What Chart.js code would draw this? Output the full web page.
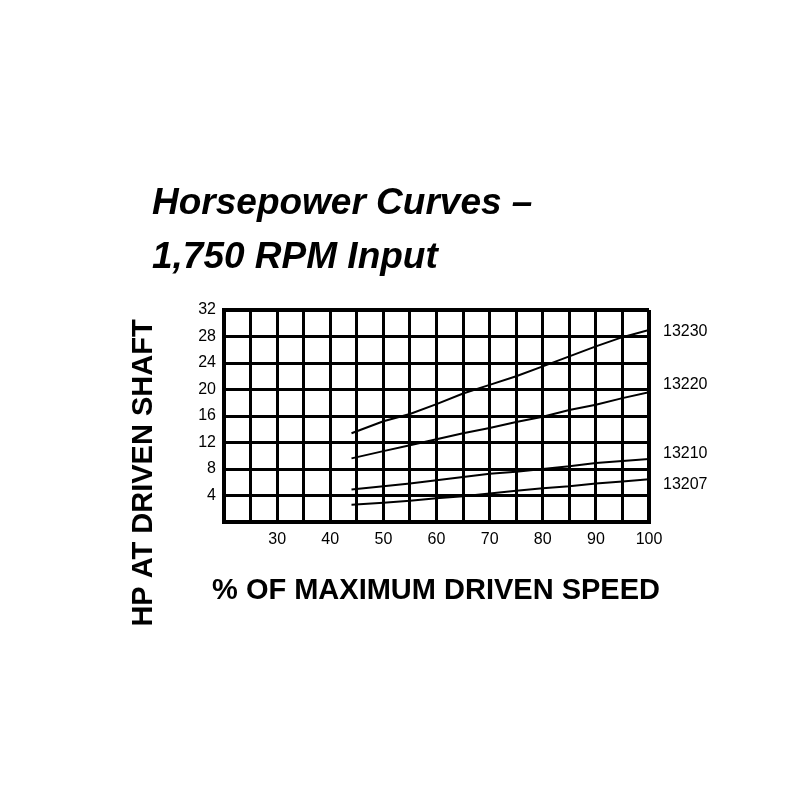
<!DOCTYPE html>
<html>
<head>
<meta charset="utf-8">
<script src="https://cdn.jsdelivr.net/npm/chart.js@4.4.1/dist/chart.umd.min.js"></script>
<style>
html,body{margin:0;padding:0;background:#fff;}
canvas{display:block;}
</style>
</head>
<body>
<canvas id="c" width="800" height="800" style="width:800px;height:800px"></canvas>
<script>
// ---- data ----
const speedPct = [44, 50, 55, 60, 65, 70, 75, 80, 85, 90, 95, 100];
const hp13230 = [13.4, 15.2, 16.3, 17.8, 19.4, 20.7, 22.0, 23.5, 25.0, 26.5, 27.9, 29.0];
const hp13220 = [9.6, 10.7, 11.6, 12.5, 13.4, 14.2, 15.1, 15.9, 16.9, 17.7, 18.7, 19.6];
const hp13210 = [4.9, 5.4, 5.8, 6.3, 6.8, 7.3, 7.6, 8.0, 8.4, 8.9, 9.2, 9.5];
const hp13207 = [2.6, 2.9, 3.2, 3.6, 3.9, 4.3, 4.7, 5.1, 5.4, 5.8, 6.1, 6.45];
const seriesNames = ['13230', '13220', '13210', '13207'];
const seriesLabelHP = [28.7, 20.7, 10.4, 5.6];
const titleLines = ['Horsepower Curves \u2013', '1,750 RPM Input'];
const yTitle = 'HP AT DRIVEN SHAFT';
const xTitle = '% OF MAXIMUM DRIVEN SPEED';

const seriesValues = [hp13230, hp13220, hp13210, hp13207];
const datasets = seriesValues.map((vals, i) => ({
  label: seriesNames[i],
  data: speedPct.map((x, j) => ({x: x, y: vals[j]})),
  borderColor: '#000',
  borderWidth: 2,
  pointRadius: 0,
  tension: 0,
  fill: false
}));

const textPlugin = {
  id: 'texts',
  afterDraw(chart) {
    const ctx = chart.ctx;
    const ca = chart.chartArea;
    const y = chart.scales.y;
    ctx.save();
    ctx.fillStyle = '#000';
    // main title
    ctx.font = 'italic bold 37px "Liberation Sans", Arial, sans-serif';
    ctx.textAlign = 'left';
    ctx.textBaseline = 'alphabetic';
    ctx.fillText(titleLines[0], 152, 214);
    ctx.fillText(titleLines[1], 152, 268);
    // x title
    ctx.font = 'bold 29px "Liberation Sans", Arial, sans-serif';
    ctx.textAlign = 'center';
    ctx.textBaseline = 'middle';
    ctx.fillText(xTitle, 436, 591);
    // y title
    ctx.save();
    ctx.translate(144, 473);
    ctx.rotate(-Math.PI / 2);
    ctx.fillText(yTitle, 0, 0);
    ctx.restore();
    // series labels
    ctx.font = '16px "Liberation Sans", Arial, sans-serif';
    ctx.textAlign = 'left';
    ctx.textBaseline = 'middle';
    seriesNames.forEach((n, i) => {
      ctx.fillText(n, ca.right + 14, y.getPixelForValue(seriesLabelHP[i]));
    });
    ctx.restore();
  }
};

new Chart(document.getElementById('c'), {
  type: 'line',
  data: {datasets},
  options: {
    responsive: false,
    animation: false,
    devicePixelRatio: 1,
    layout: {padding: {top: 310, right: 151, bottom: 0, left: 0}},
    plugins: {legend: {display: false}, tooltip: {enabled: false}, title: {display: false}},
    scales: {
      x: {
        type: 'linear', min: 20, max: 100,
        afterFit(s) { s.height = 278; },
        ticks: {
          stepSize: 5, autoSkip: false, maxRotation: 0, padding: 8,
          color: '#000',
          font: {family: '"Liberation Sans", Arial, sans-serif', size: 16},
          callback: v => (v % 10 === 0 && v >= 30) ? String(v) : ''
        },
        grid: {
          color: '#000',
          lineWidth: c => (c.tick && c.tick.value === 100) ? 4 : 3,
          drawTicks: false
        },
        border: {display: true, color: '#000', width: 4}
      },
      y: {
        min: 0, max: 32,
        afterFit(s) { s.width = 224; },
        ticks: {
          stepSize: 4, padding: 8, color: '#000',
          font: {family: '"Liberation Sans", Arial, sans-serif', size: 16},
          callback: v => v === 0 ? '' : String(v)
        },
        grid: {
          color: '#000',
          lineWidth: c => (c.tick && c.tick.value === 32) ? 4 : 3,
          drawTicks: false
        },
        border: {display: true, color: '#000', width: 4}
      }
    }
  },
  plugins: [textPlugin]
});
</script>
</body>
</html>
